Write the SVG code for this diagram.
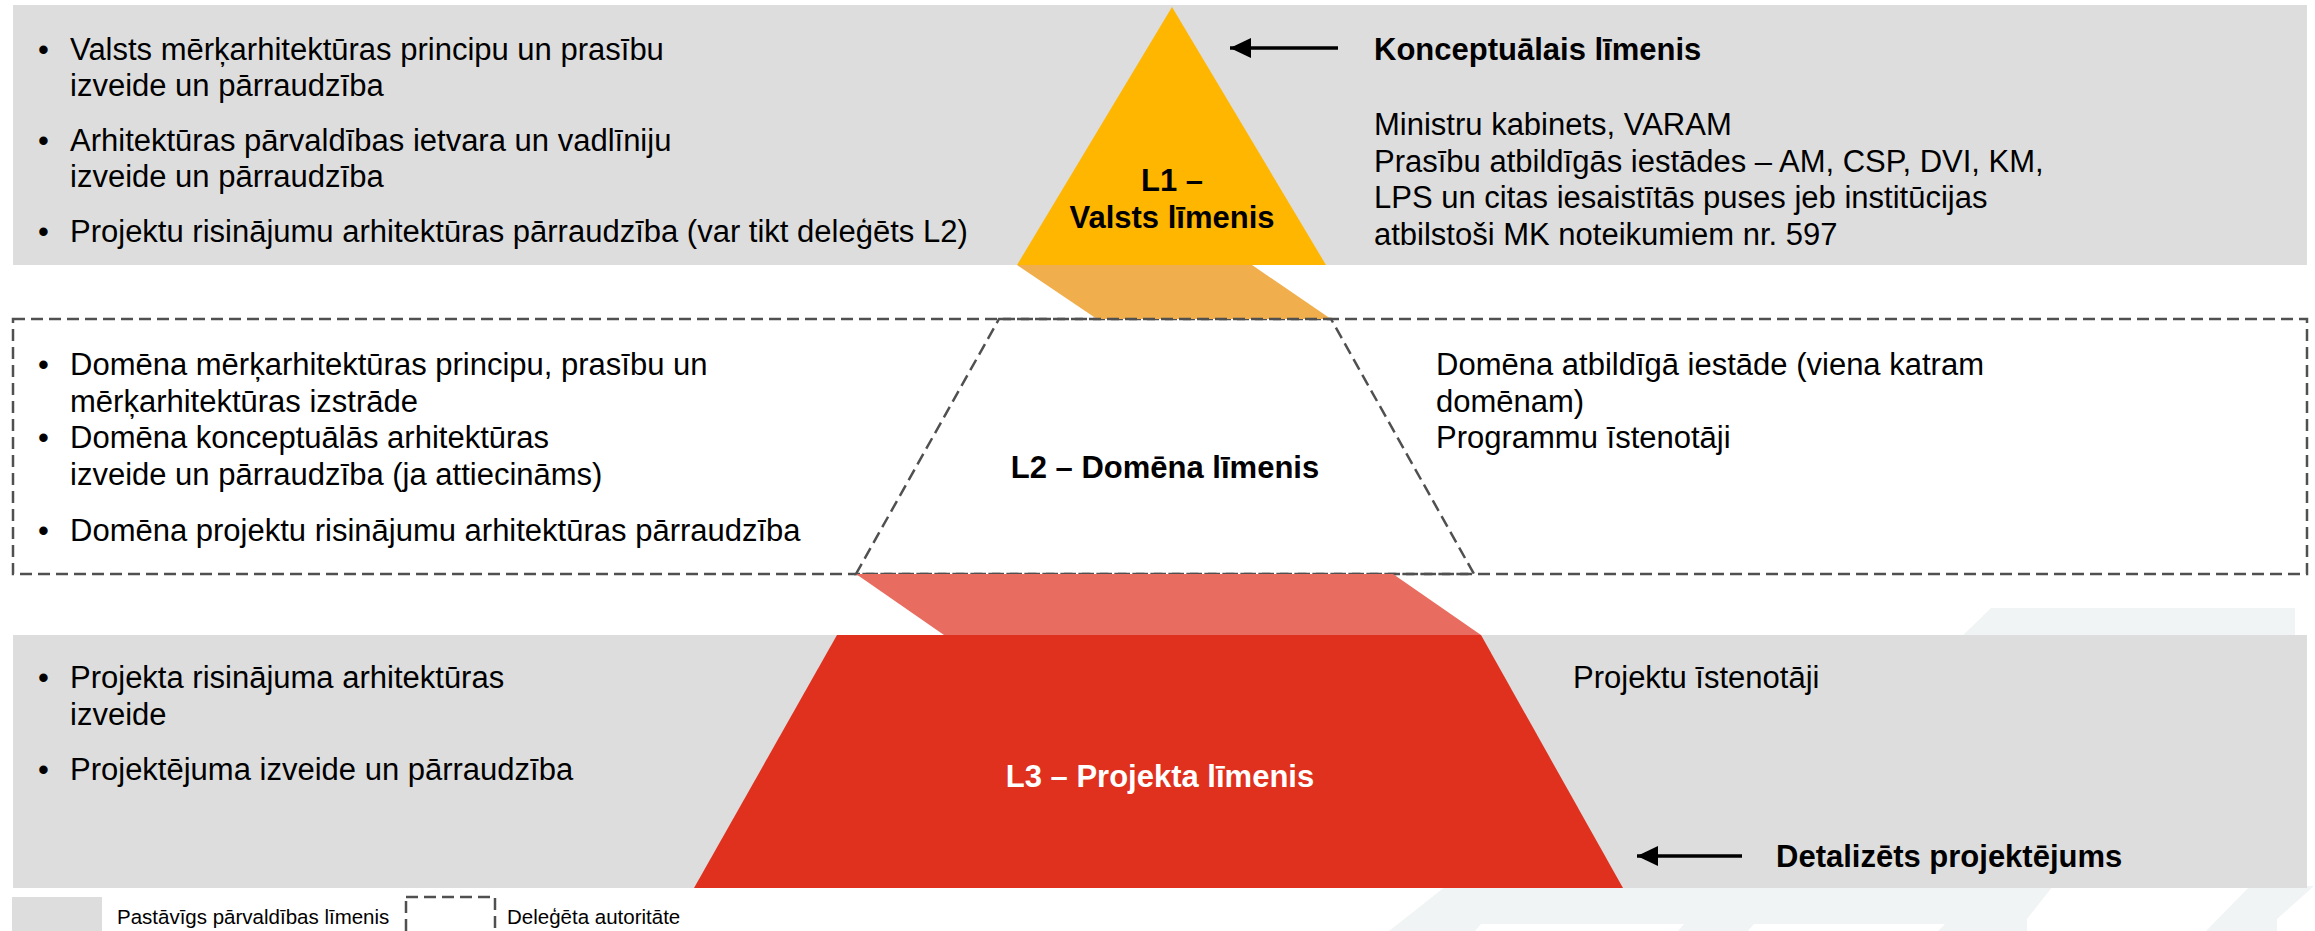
<svg xmlns="http://www.w3.org/2000/svg" width="2315" height="931" viewBox="0 0 2315 931">
  <defs>
    <style>
      .t { font-family: "Liberation Sans", Arial, sans-serif; font-size: 31px; fill: #000; }
      .b { font-weight: bold; }
      .c { text-anchor: middle; }
      .w { fill: #fff; }
      .lg { font-family: "Liberation Sans", Arial, sans-serif; font-size: 20.5px; fill: #000; }
      .band { fill: #dddddd; }
      .dash { fill: none; stroke: #505050; stroke-width: 2.5; stroke-dasharray: 12 6; }
      .wm { fill: #f1f4f4; }
      .arrow { stroke: #000; stroke-width: 3.4; fill: none; }
    </style>
    <marker id="ah" viewBox="0 0 21 20" refX="21" refY="10" markerWidth="21" markerHeight="20" markerUnits="userSpaceOnUse" orient="auto">
      <path d="M0,0 L21,10 L0,20 Z" fill="#000"/>
    </marker>
  </defs>
  <rect width="2315" height="931" fill="#fff"/>

  <g id="watermark">
    <polygon class="wm" points="1991,608 2295,608 2295,640 1958,640"/>
    <polygon class="wm" points="1446,886 2053,886 2027,919 2027,931 1938,931 1945,924 1754,924 1748,931 1678,931 1684,924 1481,924 1475,931 1389,931"/>
    <polygon class="wm" points="2250,886 2314,886 2277,919 2277,931 2206,931"/>
  </g>

  <g id="band1">
    <rect class="band" x="13" y="5" width="2294" height="260"/>
    <text class="t" x="38" y="60">•</text>
    <text class="t" x="70" y="60">Valsts mērķarhitektūras principu un prasību</text>
    <text class="t" x="70" y="96">izveide un pārraudzība</text>
    <text class="t" x="38" y="151">•</text>
    <text class="t" x="70" y="151">Arhitektūras pārvaldības ietvara un vadlīniju</text>
    <text class="t" x="70" y="187">izveide un pārraudzība</text>
    <text class="t" x="38" y="242">•</text>
    <text class="t" x="70" y="242">Projektu risinājumu arhitektūras pārraudzība (var tikt deleģēts L2)</text>
    <text class="t b" x="1374" y="60">Konceptuālais līmenis</text>
    <text class="t" x="1374" y="135">Ministru kabinets, VARAM</text>
    <text class="t" x="1374" y="172">Prasību atbildīgās iestādes – AM, CSP, DVI, KM,</text>
    <text class="t" x="1374" y="208">LPS un citas iesaistītās puses jeb institūcijas</text>
    <text class="t" x="1374" y="245">atbilstoši MK noteikumiem nr. 597</text>
  </g>

  <g id="band2">
    <rect class="dash" x="13" y="319" width="2294" height="255"/>
    <text class="t" x="38" y="375">•</text>
    <text class="t" x="70" y="375">Domēna mērķarhitektūras principu, prasību un</text>
    <text class="t" x="70" y="412">mērķarhitektūras izstrāde</text>
    <text class="t" x="38" y="448">•</text>
    <text class="t" x="70" y="448">Domēna konceptuālās arhitektūras</text>
    <text class="t" x="70" y="485">izveide un pārraudzība (ja attiecināms)</text>
    <text class="t" x="38" y="541">•</text>
    <text class="t" x="70" y="541">Domēna projektu risinājumu arhitektūras pārraudzība</text>
    <text class="t" x="1436" y="375">Domēna atbildīgā iestāde (viena katram</text>
    <text class="t" x="1436" y="412">domēnam)</text>
    <text class="t" x="1436" y="448">Programmu īstenotāji</text>
  </g>

  <g id="band3">
    <rect class="band" x="13" y="635" width="2294" height="253"/>
    <text class="t" x="38" y="688">•</text>
    <text class="t" x="70" y="688">Projekta risinājuma arhitektūras</text>
    <text class="t" x="70" y="725">izveide</text>
    <text class="t" x="38" y="780">•</text>
    <text class="t" x="70" y="780">Projektējuma izveide un pārraudzība</text>
    <text class="t" x="1573" y="688">Projektu īstenotāji</text>
    <text class="t b" x="1776" y="867">Detalizēts projektējums</text>
  </g>

  <g id="l1">
    <polygon points="1017,265 1252,265 1331,319 1097,319" fill="#f0ae4c"/>
    <polygon points="1172,7 1326,265 1017,265" fill="#ffb600"/>
    <text class="t b c" x="1172" y="191">L1 –</text>
    <text class="t b c" x="1172" y="228">Valsts līmenis</text>
  </g>

  <g id="l2">
    <polygon class="dash" points="999,319 1331,319 1474,574 856,574" fill="#fff"/>
    <text class="t b c" x="1165" y="478">L2 – Domēna līmenis</text>
  </g>

  <g id="l3">
    <polygon points="856,574 1393,574 1481,635 944,635" fill="#e86c60"/>
    <polygon points="837,635 1481,635 1623,888 694,888" fill="#e0301e"/>
    <text class="t b c w" x="1160" y="787">L3 – Projekta līmenis</text>
  </g>

  <g id="connectors">
    <line class="arrow" x1="1338" y1="48" x2="1230" y2="48" marker-end="url(#ah)"/>
    <line class="arrow" x1="1742" y1="856" x2="1637" y2="856" marker-end="url(#ah)"/>
  </g>

  <g id="legend">
    <rect class="band" x="12" y="897" width="90" height="40"/>
    <text class="lg" x="117" y="924">Pastāvīgs pārvaldības līmenis</text>
    <rect class="dash" x="406" y="897" width="89" height="45"/>
    <text class="lg" x="507" y="924">Deleģēta autoritāte</text>
  </g>
</svg>
